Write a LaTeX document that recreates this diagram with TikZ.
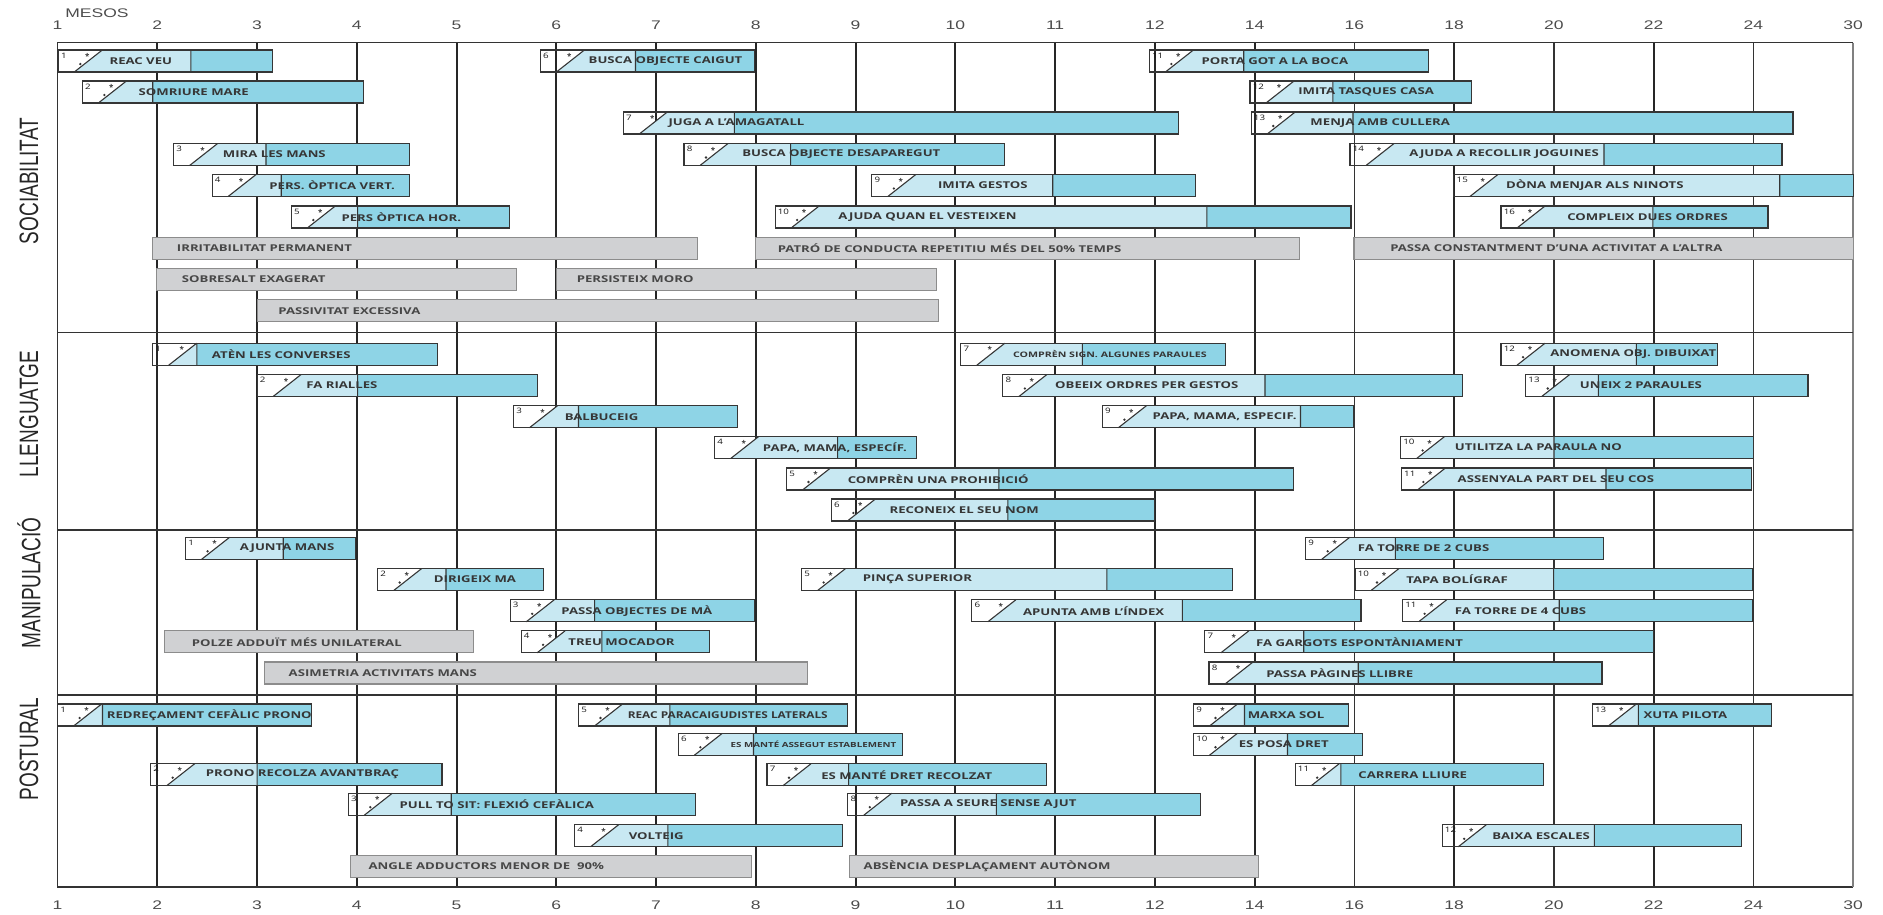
\documentclass[tikz,border=0pt]{standalone}
\usepackage{fontspec}
\setmainfont{Open Sans}
\newfontfamily\helv{Liberation Sans}
\usepackage{tikz}
\definecolor{clar}{HTML}{C8E8F2}
\definecolor{fosc}{HTML}{8ED4E6}
\definecolor{gris}{HTML}{D0D1D3}
\definecolor{tinta}{HTML}{363636}
\tikzset{
    vora/.style={draw=tinta, line width=1.1pt}, % outline of every bar
    etiq/.style={font=\bfseries\fontsize{9.4}{10}\selectfont, text=tinta, xscale=1.4, inner sep=0pt, anchor=west}, % bar text
    num/.style={font=\fontsize{7.5}{8}\selectfont, text=black!90, xscale=1.3, inner sep=0pt, anchor=north west}, % item number
    estrella/.style={font=\bfseries\fontsize{8}{8}\selectfont, text=tinta, inner sep=0pt},
    alarma/.style={fill=gris, draw=black!45, line width=1.1pt}, % warning bars
    graella/.style={draw=black!85, line width=2pt}, % month lines
    graellafina/.style={draw=black!80, line width=1.3pt},
    eix/.style={font=\helv\fontsize{12.5}{13}\selectfont, text=black!70, xscale=1.4},
    area/.style={font=\helv\fontsize{19}{20}\selectfont, text=black!85, xscale=1.4, rotate=90},
}
\newcommand{\petita}{\fontsize{7.6}{9}\selectfont}
\newcommand{\petitb}{\fontsize{7}{8}\selectfont}
% #1 name, #2 row, #3 start, #4 divider, #5 end, #6 number, #7 dot, #8 gap, #9 text
\newcommand{\fita}[9]{%
  \fill[clar] (#3+16,#2+11) -- (#3+44,#2-11) -- (#4,#2-11) -- (#4,#2+11) -- cycle;
  \fill[fosc] (#4,#2-11) rectangle (#5,#2+11);
  \draw[vora] (#3,#2-11) rectangle (#5,#2+11);
  \draw[vora] (#3+16,#2+11) -- (#3+44,#2-11) (#4,#2-11) -- (#4,#2+11);
  \node[num] (#1n) at (#3+2.5,#2-8.5) {#6};
  \node[estrella] (#1e) at (#3+29,#2-4.5) {*};
  \ifnum#7=1 \fill[tinta] (#3+22,#2+3) circle (1.3pt);\fi
  \node[etiq] (#1) at (#3+44+#8,#2) {#9};
}
% #1 name, #2 row, #3 start, #4 end, #5 gap, #6 text
\newcommand{\avis}[6]{%
  \draw[alarma] (#3,#2-11) rectangle (#4,#2+11);
  \node[etiq, text=black!72] (#1) at (#3+#5,#2) {#6};
}

\begin{document}
\begin{tikzpicture}[x=1pt, y=-1pt]
    \useasboundingbox (0,0) rectangle (1883,914);

    % month grid
    \foreach \i in {1,...,12,14,16}
        \draw[graella] (57.6+99.75*\i,42.7) -- (57.6+99.75*\i,887);
    \foreach \i in {13,15,17}
        \draw[graellafina] (57.6+99.75*\i,42.7) -- (57.6+99.75*\i,887);
    \draw[line width=1.3pt, black!80] (1853.1,42.7) -- (57.6,42.7) -- (57.6,887) -- (1853.1,887);
    \draw[line width=1.5pt, black!50] (1853.1,42.7) -- (1853.1,887);
    \foreach \y in {332.3,530,695}
        \draw[line width=1.3pt, black!80] (57.6,\y) -- (1853.1,\y);

    \node[eix] (mesos) at (97,12.7) {MESOS};
    \foreach \m [count=\i from 0] in {1,2,3,4,5,6,7,8,9,10,11,12,14,16,18,20,22,24,30} {
        \node[eix] (d\i) at (57.6+99.75*\i,25) {\m};
        \node[eix] (u\i) at (57.6+99.75*\i,905) {\m};
    }

    \node[area] (soc) at (29,181) {SOCIABILITAT};
    \node[area] (llen) at (29,414) {LLENGUATGE};
    \node[area] (manip) at (29,583) {MANIPULACIÓ};
    \node[area] (post) at (29,749) {POSTURAL};

    % sociabilitat
    \fita{s1}{61}{58.3}{190.8}{272.4}{1}{1}{7}{REAC VEU}
    \fita{s2}{92}{82.4}{152.7}{363.6}{2}{1}{12}{SOMRIURE MARE}
    \fita{s3}{154.5}{173.6}{266}{409.8}{3}{0}{5}{MIRA LES MANS}
    \fita{s4}{185.5}{212.1}{281.2}{409.8}{4}{0}{13}{PERS. ÒPTICA VERT.}
    \fita{s5}{217}{291.3}{357.6}{509.4}{5}{1}{6}{PERS ÒPTICA HOR.}
    \fita{s6}{61}{540.4}{635.5}{754.7}{6}{0}{4}{BUSCA OBJECTE CAIGUT}
    \fita{s7}{123}{623.3}{734.3}{1178.4}{7}{0}{1}{JUGA A L’AMAGATALL}
    \fita{s8}{154.5}{684}{790.6}{1004.9}{8}{1}{14}{BUSCA OBJECTE DESAPAREGUT}
    \fita{s9}{185.5}{871.8}{1052.7}{1195.5}{9}{1}{22}{IMITA GESTOS}
    \fita{s10}{217}{775.1}{1206.9}{1351}{10}{1}{19}{AJUDA QUAN EL VESTEIXEN}
    \fita{s11}{61}{1149.4}{1243.7}{1428.8}{11}{1}{8}{PORTA GOT A LA BOCA}
    \fita{s12}{92}{1250}{1332.8}{1471.2}{12}{0}{4}{IMITA TASQUES CASA}
    \fita{s13}{123}{1251.2}{1353}{1793}{13}{1}{15}{MENJA AMB CULLERA}
    \fita{s14}{154.5}{1350}{1604}{1782}{14}{0}{15}{AJUDA A RECOLLIR JOGUINES}
    \fita{s15}{185.5}{1453.9}{1779.7}{1853.1}{15}{0}{8}{DÒNA MENJAR ALS NINOTS}
    \fita{s16}{217}{1501}{1652.9}{1768}{16}{1}{22}{COMPLEIX DUES ORDRES}
    \avis{g1}{248.3}{152.7}{697.6}{24}{IRRITABILITAT PERMANENT}
    \avis{g2}{248.3}{755.5}{1299.7}{22}{PATRÓ DE CONDUCTA REPETITIU MÉS DEL 50\% TEMPS}
    \avis{g3}{248.3}{1354}{1853.1}{36}{PASSA CONSTANTMENT D’UNA ACTIVITAT A L’ALTRA}
    \avis{g4}{279.3}{156.7}{516.3}{25}{SOBRESALT EXAGERAT}
    \avis{g5}{279.3}{556.5}{936.3}{20}{PERSISTEIX MORO}
    \avis{g6}{310.7}{257.1}{938.4}{21}{PASSIVITAT EXCESSIVA}

    % llenguatge
    \fita{l1}{354.2}{152.7}{196.9}{437.9}{1}{0}{15}{ATÈN LES CONVERSES}
    \fita{l2}{385.5}{257.1}{357.6}{537.6}{2}{0}{5}{FA RIALLES}
    \fita{l3}{416.7}{513.5}{578.5}{737.6}{3}{0}{7}{BALBUCEIG}
    \fita{l4}{447.5}{714.7}{837.6}{916.7}{4}{0}{4}{PAPA, MAMA, ESPECÍF.}
    \fita{l5}{479}{786.5}{998.8}{1293.4}{5}{1}{17}{COMPRÈN UNA PROHIBICIÓ}
    \fita{l6}{510}{831.4}{1007.8}{1154.7}{6}{1}{14}{RECONEIX EL SEU NOM}
    \fita{l7}{354.2}{960.8}{1082.4}{1225.3}{7}{0}{8}{\petita COMPRÈN SIGN. ALGUNES PARAULES}
    \fita{l8}{385.5}{1002.9}{1265}{1462.8}{8}{1}{8}{OBEEIX ORDRES PER GESTOS}
    \fita{l9}{416.7}{1102.4}{1300.5}{1354}{9}{1}{6}{PAPA, MAMA, ESPECIF.}
    \fita{l10}{447.5}{1400.6}{1554}{1753.8}{10}{1}{10}{UTILITZA LA PARAULA NO}
    \fita{l11}{479}{1401.4}{1606}{1751.8}{11}{1}{12}{ASSENYALA PART DEL SEU COS}
    \fita{l12}{354.2}{1501}{1636.4}{1717.5}{12}{1}{5}{ANOMENA OBJ. DIBUIXAT}
    \fita{l13}{385.5}{1525.7}{1598.4}{1808}{13}{1}{10}{UNEIX 2 PARAULES}

    % manipulacio
    \fita{m1}{548.3}{185.6}{283.2}{355.6}{1}{1}{10}{AJUNTA MANS}
    \fita{m2}{579.5}{377.7}{446}{543.2}{2}{1}{12}{DIRIGEIX MA}
    \fita{m3}{610.8}{510.2}{594.6}{754.7}{3}{1}{7}{PASSA OBJECTES DE MÀ}
    \fita{m4}{641.8}{521.1}{601.8}{709.8}{4}{1}{3}{TREU MOCADOR}
    \fita{m5}{579.5}{801.6}{1106.9}{1232.2}{5}{1}{17}{PINÇA SUPERIOR}
    \fita{m6}{610.8}{971.8}{1182.4}{1361}{6}{0}{7}{APUNTA AMB L’ÍNDEX}
    \fita{m7}{641.8}{1204.9}{1303.7}{1653.7}{7}{0}{7}{FA GARGOTS ESPONTÀNIAMENT}
    \fita{m8}{673}{1209}{1358.2}{1602}{8}{0}{13}{PASSA PÀGINES LLIBRE}
    \fita{m9}{548.3}{1305.7}{1395.3}{1603.3}{9}{1}{8}{FA TORRE DE 2 CUBS}
    \fita{m10}{579.5}{1355}{1553.6}{1752.6}{10}{1}{7}{TAPA BOLÍGRAF}
    \fita{m11}{610.8}{1402.6}{1559.2}{1752.6}{11}{1}{8}{FA TORRE DE 4 CUBS}
    \avis{g7}{641.8}{164.7}{473.3}{27}{POLZE ADDUÏT MÉS UNILATERAL}
    \avis{g8}{673}{264.4}{807.8}{24}{ASIMETRIA ACTIVITATS MANS}

    % postural
    \fita{p1}{715}{57.6}{102.5}{311.4}{1}{1}{5}{REDREÇAMENT CEFÀLIC PRONO}
    \fita{p2}{774.7}{150.7}{257.1}{442}{2}{1}{11}{PRONO RECOLZA AVANTBRAÇ}
    \fita{p3}{804.2}{348.3}{451.2}{695.5}{3}{1}{7}{PULL TO SIT: FLEXIÓ CEFÀLICA}
    \fita{p4}{835.8}{574.5}{667.8}{842.4}{4}{0}{10}{VOLTEIG}
    \fita{p5}{715}{578.5}{669.8}{847.8}{5}{1}{5}{\scalebox{0.9}[1]{REAC PARACAIGUDISTES LATERALS}}
    \fita{p6}{744.2}{678.4}{753.5}{902.4}{6}{1}{8}{\petitb ES MANTÉ ASSEGUT ESTABLEMENT}
    \fita{p7}{774.7}{767}{848.6}{1046.5}{7}{1}{10}{ES MANTÉ DRET RECOLZAT}
    \fita{p8}{804.2}{847.8}{996.3}{1200.8}{8}{1}{8}{PASSA A SEURE SENSE AJUT}
    \fita{p9}{715}{1193.5}{1244.5}{1348.1}{9}{1}{10}{MARXA SOL}
    \fita{p10}{744.2}{1193.5}{1287.5}{1362.2}{10}{1}{1}{ES POSA DRET}
    \fita{p11}{774.7}{1295.2}{1340.8}{1543.9}{11}{1}{19}{CARRERA LLIURE}
    \fita{p12}{835.8}{1442.2}{1594.4}{1741.7}{12}{1}{6}{BAIXA ESCALES}
    \fita{p13}{715}{1592.3}{1638.4}{1771.6}{13}{0}{7}{XUTA PILOTA}
    \avis{g9}{866.5}{350.3}{751.4}{18}{ANGLE ADDUCTORS MENOR DE\ \ 90\%}
    \avis{g10}{866.5}{849.4}{1258.8}{14}{ABSÈNCIA DESPLAÇAMENT AUTÒNOM}
\end{tikzpicture}
\end{document}
